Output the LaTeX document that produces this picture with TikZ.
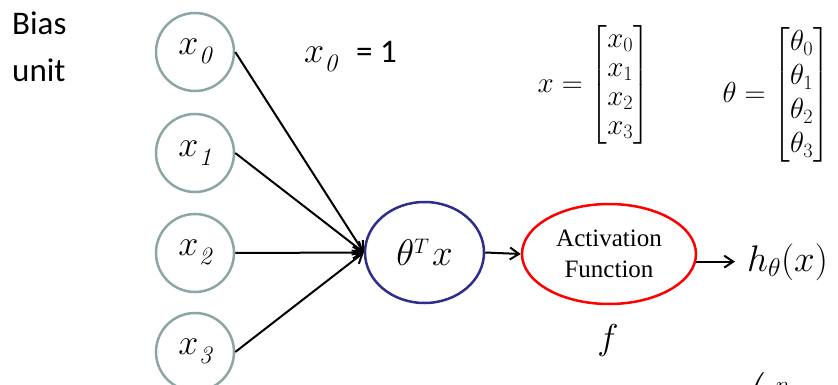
\RequirePackage{fix-cm}
\documentclass[tikz,border=0pt]{standalone}
\usepackage{amsmath}
\usepackage{fontspec}
\newfontfamily\carl{Carlito}
\newfontfamily\tms{Liberation Serif}
\usetikzlibrary{shapes.geometric,arrows.meta}
\definecolor{circgray}{RGB}{140,166,166}
\definecolor{navyblue}{RGB}{46,46,140}
\definecolor{actred}{RGB}{255,0,0}
\newcommand\xlab[1]{{\fontsize{36}{36}\selectfont$x$\kern0.5pt\raisebox{-9pt}{\fontsize{25}{25}\selectfont\itshape #1}}}
\begin{document}
\begin{tikzpicture}[x=1pt,y=-1pt,
 inp/.style={circle,draw=circgray,line width=2.5pt,minimum size=78pt,inner sep=0pt},
 arr/.style={line width=2pt,-{Straight Barb[length=9pt,width=12pt]}},
 sanslab/.style={anchor=base west,inner sep=0pt,font=\carl\fontsize{33}{33}\selectfont},
 oval/.style={ellipse,line width=2.5pt,inner sep=0pt}
]
\useasboundingbox (0,0) rectangle (838,385);
% bias label
\node[sanslab] (bias1) at (12,35) {Bias};
\node[sanslab] (bias2) at (12,82) {unit};
% inputs
\node[inp] (x0) at (195,52) {\xlab{0}};
\node[inp] (x1) at (195,153) {\xlab{1}};
\node[inp] (x2) at (195,253) {\xlab{2}};
\node[inp] (x3) at (195,352) {\xlab{3}};
% x0 = 1
\node[anchor=base west,inner sep=0pt] (x0lab) at (304,63) {\xlab{0}};
\node[sanslab] (eq1) at (356,63) {= 1};
% vectors
\node[anchor=east,inner sep=0pt] (xvec) at (650,85)
  {\fontsize{29}{29}\selectfont $x = \begin{bmatrix}x_0\\x_1\\x_2\\x_3\end{bmatrix}$};
\node[anchor=east,inner sep=0pt] (tvec) at (830,95)
  {\fontsize{29}{34}\selectfont $\theta = \begin{bmatrix}\theta_0\\\theta_1\\\theta_2\\\theta_3\end{bmatrix}$};
% summation node
\node[oval,draw=navyblue,minimum width=119pt,minimum height=101pt] (theta) at (424.5,252.5)
  {\fontsize{37}{37}\selectfont$\theta$\raisebox{12pt}{\fontsize{21}{21}\selectfont$T$}\kern3pt$x$};
% activation
\node[oval,draw=actred,minimum width=174pt,minimum height=100pt,align=center,
  font=\tms\fontsize{25}{31}\selectfont] (act) at (609,254) {Activation\\Function};
% output
\node[anchor=west,inner xsep=12pt,inner ysep=0pt,font=\fontsize{37}{37}\selectfont] (hout) at (735,262) {$h_\theta(x)$};
\node[inner sep=0pt,font=\fontsize{36}{36}\selectfont] (fl) at (608,340) {$f$};
\node[anchor=north west,inner sep=0pt,font=\fontsize{33}{33}\selectfont] (sumfrag) at (743,372)
  {$\displaystyle\left(\sum_{i=0}^{n}\theta_i x_i\right)$};
% connectors
\draw[arr] (x0.east) -- (theta.west);
\draw[arr] (x1.east) -- (theta.west);
\draw[arr] (x2.east) -- (theta.west);
\draw[arr] (x3.east) -- (theta.west);
\draw[arr] (theta.east) -- (act.west);
\draw[arr] (act.-5) -- (act.-5 -| hout.west);
\end{tikzpicture}
\end{document}
